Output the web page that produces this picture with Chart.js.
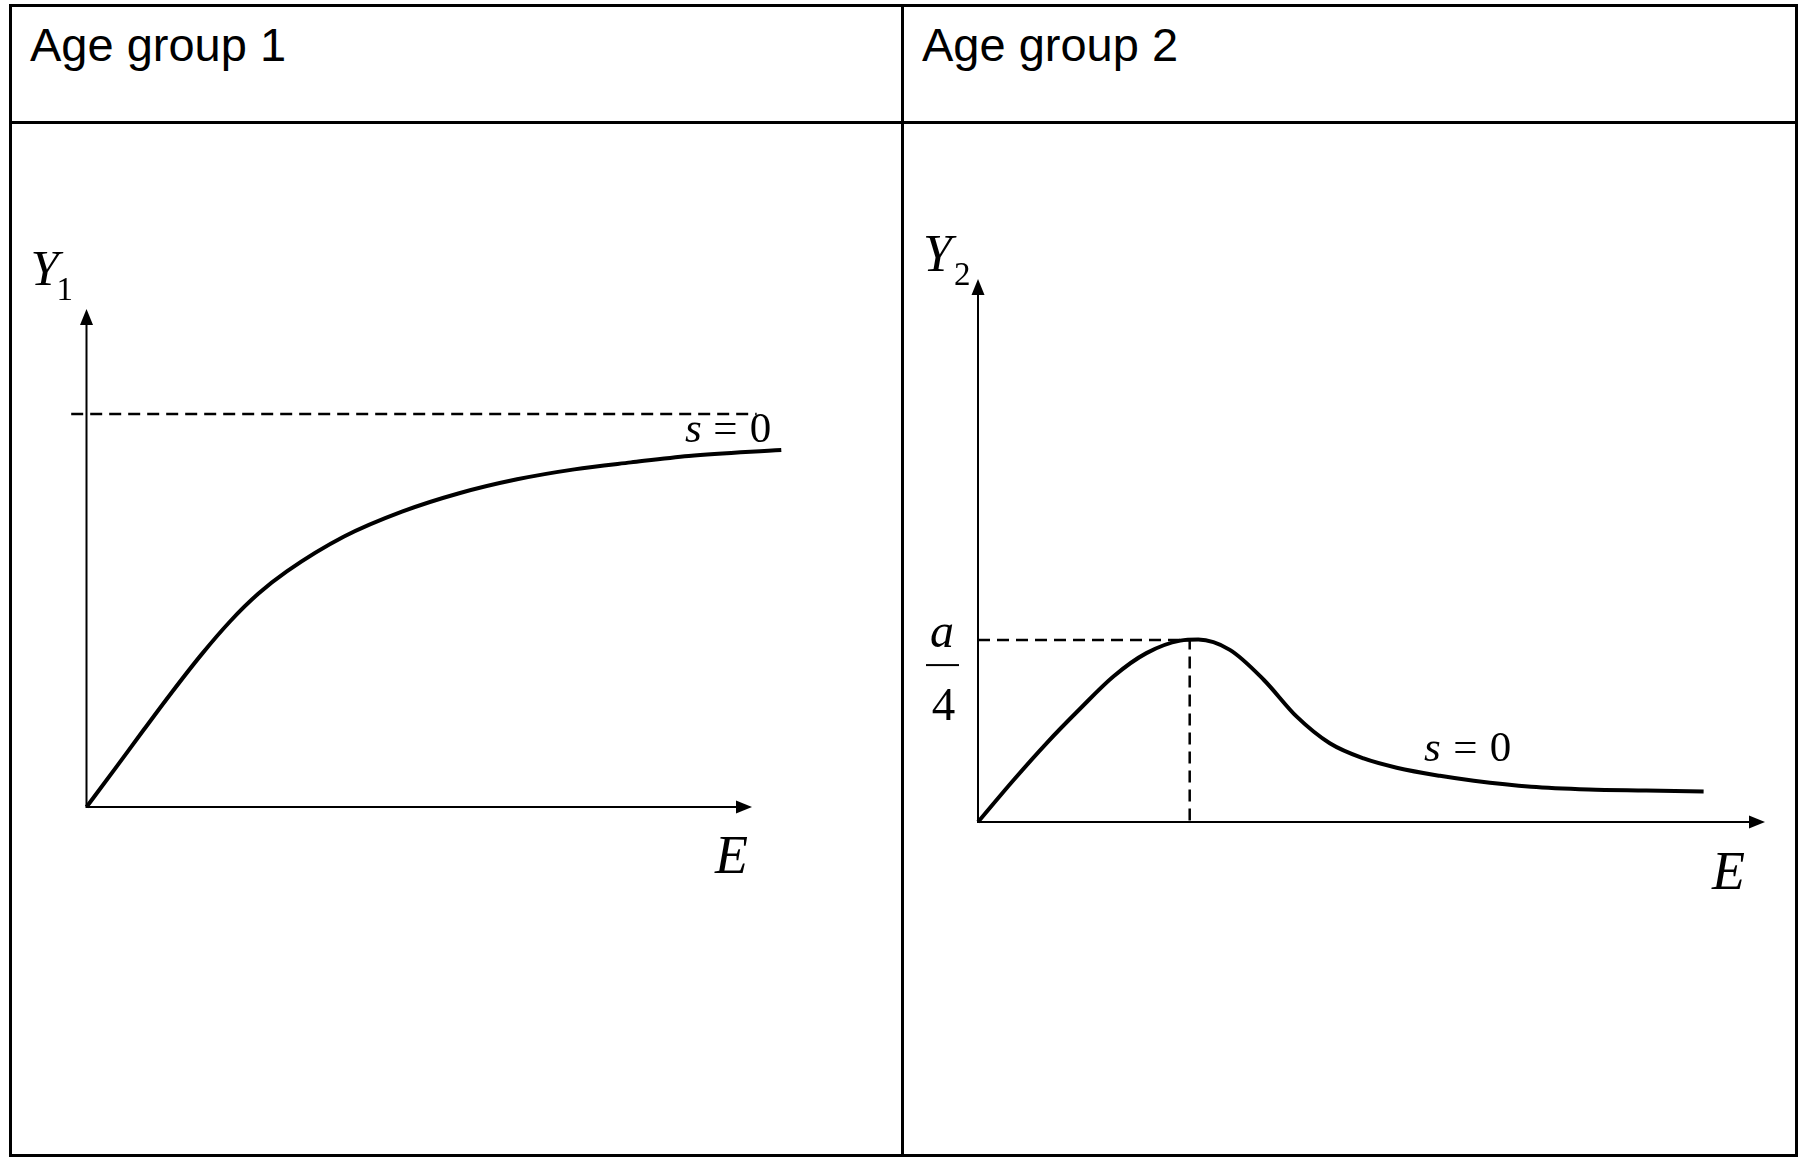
<!DOCTYPE html>
<html lang="en">
<head>
<meta charset="UTF-8">
<title>Age groups</title>
<script src="https://cdn.jsdelivr.net/npm/chart.js"></script>
<style>
  html, body { margin: 0; padding: 0; background: #fff; }
  #page { position: relative; width: 1798px; height: 1160px; overflow: hidden; }
  .frame { position: absolute; border: 3px solid #000; box-sizing: border-box; }
  .head { position: absolute; font-family: "Liberation Sans", Arial, sans-serif; font-size: 47px; line-height: 47px; color: #000; white-space: nowrap; }
  canvas { position: absolute; left: 0; top: 0; }
</style>
</head>
<body>
<div id="page">
  <!-- table: outer box, header rule, middle divider -->
  <div class="frame" style="left:9px;top:4px;width:1789px;height:1153px;"></div>
  <div style="position:absolute;left:9px;top:121px;width:1789px;height:3px;background:#000;"></div>
  <div style="position:absolute;left:901px;top:4px;width:3px;height:1153px;background:#000;"></div>
  <div class="head" style="left:30px;top:21px;">Age group 1</div>
  <div class="head" style="left:922px;top:21px;">Age group 2</div>
  <canvas id="c1" width="1798" height="1160"></canvas>
  <canvas id="c2" width="1798" height="1160"></canvas>
</div>
<script>
// ---- data (E on 0..10, Y on 0..1 for each panel) ----
var E_MAX = 10, Y_MAX = 1;

// age group 1: rising curve towards the s = 0 asymptote
var E1 = [0, 0.43, 0.86, 1.28, 1.72, 2.16, 2.58, 3.01, 3.87, 4.74, 5.60, 6.47, 7.33, 8.18, 9.05, 10.44];
var Y1 = [0, 0.077, 0.155, 0.230, 0.305, 0.373, 0.428, 0.473, 0.543, 0.593, 0.630, 0.658, 0.678, 0.692, 0.705, 0.717];
var S0_LEVEL1 = 0.789;
var S0_FROM1 = -0.23, S0_TO1 = 10.07;

// age group 2: hump peaking at a/4, then falling off
var E2 = [0, 0.45, 0.87, 1.30, 1.72, 2.14, 2.57, 2.80, 3.20, 3.63, 4.05, 4.47, 4.90, 5.32, 5.87, 6.30, 7.03, 7.76, 8.49, 9.22];
var Y2 = [0, 0.077, 0.145, 0.209, 0.268, 0.311, 0.334, 0.336, 0.317, 0.262, 0.194, 0.145, 0.117, 0.100, 0.085, 0.076, 0.065, 0.060, 0.058, 0.056];
var PEAK_E2 = 2.69, PEAK_Y2 = 0.335;

function pts(xs, ys) {
    return xs.map(function(x, i) { return { x: x, y: ys[i] }; });
}

var SERIF = '"Liberation Serif", "Times New Roman", serif';

// draws both axes with arrow heads plus the math labels
var axesPlugin = {
    id: 'axes',
    afterDatasetsDraw: function(chart, args, opts) {
        var ctx = chart.ctx;
        var sx = chart.scales.x, sy = chart.scales.y;
        var x0 = sx.getPixelForValue(0), y0 = sy.getPixelForValue(0);
        var xEnd = sx.getPixelForValue(E_MAX), yEnd = sy.getPixelForValue(Y_MAX);
        ctx.save();
        ctx.strokeStyle = '#000';
        ctx.fillStyle = '#000';
        ctx.lineWidth = 2;
        ctx.beginPath();
        ctx.moveTo(x0, y0); ctx.lineTo(xEnd - 12, y0);
        ctx.moveTo(x0, y0 + 1); ctx.lineTo(x0, yEnd + 12);
        ctx.stroke();
        ctx.beginPath();
        ctx.moveTo(xEnd, y0); ctx.lineTo(xEnd - 16, y0 - 6.5); ctx.lineTo(xEnd - 16, y0 + 6.5);
        ctx.closePath(); ctx.fill();
        ctx.beginPath();
        ctx.moveTo(x0, yEnd); ctx.lineTo(x0 - 6.5, yEnd + 16); ctx.lineTo(x0 + 6.5, yEnd + 16);
        ctx.closePath(); ctx.fill();

        var anchors = { x0: x0, y0: y0, xEnd: xEnd, yEnd: yEnd };
        (opts.labels || []).forEach(function(l) {
            ctx.font = l.font;
            ctx.textAlign = l.align || 'left';
            ctx.textBaseline = 'alphabetic';
            ctx.fillText(l.text, anchors[l.ax] + l.dx, (l.ay in anchors ? anchors[l.ay] : sy.getPixelForValue(l.ay)) + l.dy);
        });
        (opts.bars || []).forEach(function(b) {
            ctx.fillRect(anchors[b.ax] + b.dx, sy.getPixelForValue(b.ay) + b.dy, b.w, 2);
        });
        ctx.restore();
    }
};

function makeChart(id, area, datasets, labels, bars) {
    var canvas = document.getElementById(id);
    return new Chart(canvas.getContext('2d'), {
        type: 'line',
        data: { datasets: datasets },
        options: {
            responsive: false,
            animation: false,
            devicePixelRatio: 1,
            events: [],
            layout: { padding: { left: area.left, right: 1798 - area.right, top: area.top, bottom: 1160 - area.bottom } },
            plugins: {
                legend: { display: false },
                tooltip: { enabled: false },
                axes: { labels: labels, bars: bars || [] }
            },
            elements: { point: { radius: 0 } },
            scales: {
                x: { type: 'linear', min: 0, max: E_MAX, display: false },
                y: { type: 'linear', min: 0, max: Y_MAX, display: false }
            }
        },
        plugins: [axesPlugin]
    });
}

var curveStyle = { borderColor: '#000', borderWidth: 4, cubicInterpolationMode: 'monotone', capBezierPoints: false, fill: false, clip: false };
var dashStyle = { borderColor: '#000', borderWidth: 2.5, borderDash: [12, 7], tension: 0, fill: false, clip: false };

makeChart('c1', { left: 86.5, right: 752, top: 309, bottom: 807 }, [
    Object.assign({ data: pts([S0_FROM1, S0_TO1], [S0_LEVEL1, S0_LEVEL1]) }, dashStyle),
    Object.assign({ data: pts(E1, Y1) }, curveStyle)
], [
    { text: 'Y', font: 'italic 51px ' + SERIF, ax: 'x0', dx: -56, ay: 'yEnd', dy: -24 },
    { text: '1', font: '33px ' + SERIF, ax: 'x0', dx: -30, ay: 'yEnd', dy: -9 },
    { text: 'E', font: 'italic 54px ' + SERIF, ax: 'xEnd', dx: -37, ay: 'y0', dy: 66 },
    { text: 's', font: 'italic 43px ' + SERIF, ax: 'xEnd', dx: -67, ay: S0_LEVEL1, dy: 28 },
    { text: '=', font: '43px ' + SERIF, align: 'center', ax: 'xEnd', dx: -26.5, ay: S0_LEVEL1, dy: 28 },
    { text: '0', font: '43px ' + SERIF, align: 'center', ax: 'xEnd', dx: 8.5, ay: S0_LEVEL1, dy: 28 }
]);

makeChart('c2', { left: 978, right: 1765, top: 279, bottom: 822 }, [
    Object.assign({ data: pts([0, PEAK_E2, PEAK_E2], [PEAK_Y2, PEAK_Y2, 0]) }, dashStyle),
    Object.assign({ data: pts(E2, Y2) }, curveStyle)
], [
    { text: 'Y', font: 'italic 52px ' + SERIF, ax: 'x0', dx: -55, ay: 'yEnd', dy: -8 },
    { text: '2', font: '33px ' + SERIF, ax: 'x0', dx: -24, ay: 'yEnd', dy: 6 },
    { text: 'E', font: 'italic 54px ' + SERIF, ax: 'xEnd', dx: -53, ay: 'y0', dy: 67 },
    { text: 'a', font: 'italic 48px ' + SERIF, align: 'center', ax: 'x0', dx: -36, ay: PEAK_Y2, dy: 7 },
    { text: '4', font: '47px ' + SERIF, align: 'center', ax: 'x0', dx: -34.5, ay: PEAK_Y2, dy: 80 },
    { text: 's', font: 'italic 43px ' + SERIF, ax: 'x0', dx: 446, ay: 'y0', dy: -61 },
    { text: '=', font: '43px ' + SERIF, align: 'center', ax: 'x0', dx: 487.5, ay: 'y0', dy: -61 },
    { text: '0', font: '43px ' + SERIF, align: 'center', ax: 'x0', dx: 522.5, ay: 'y0', dy: -61 }
], [
    { ax: 'x0', dx: -52, ay: PEAK_Y2, dy: 24, w: 33 }
]);
</script>
</body>
</html>
